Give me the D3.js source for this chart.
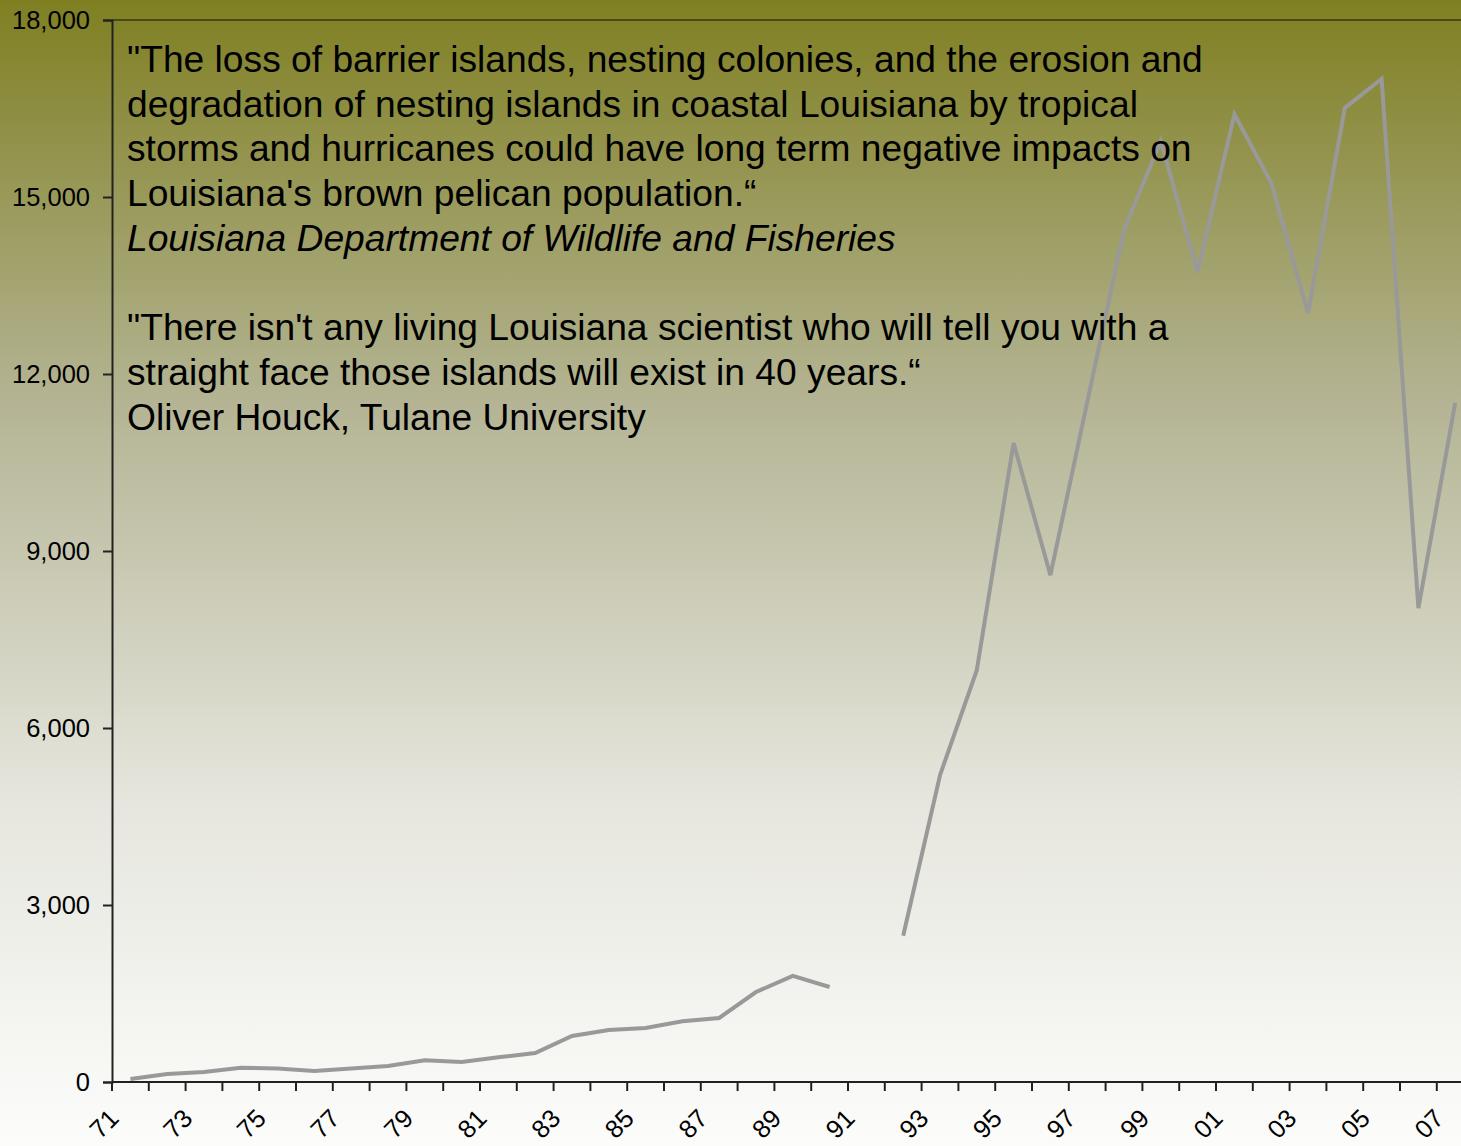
<!DOCTYPE html>
<html>
<head>
<meta charset="utf-8">
<script src="https://cdn.jsdelivr.net/npm/d3@7"></script>
<style>
  body { margin: 0; padding: 0; }
  svg { display: block; }
  text { font-family: "Liberation Sans", Arial, sans-serif; }
</style>
</head>
<body>
<div id="chart"></div>
<script>
"use strict";
(function () {
    // years 1971..2007, 1991 has no count
    const years = d3.range(1971, 2008);
    const pelicans = [
        50, 135, 170, 240, 230, 185, 230, 270, 370, 340,
        420, 490, 780, 880, 915, 1030, 1085, 1525, 1800, 1610,
        null, 2480, 5200, 6980, 10830, 8590, 11520, 14440, 15950, 13730,
        16400, 15240, 13030, 16510, 17000, 8030, 11510
    ];
    const yTicks = [0, 3000, 6000, 9000, 12000, 15000, 18000];
    const quoteLines = [
        { text: "\"The loss of barrier islands, nesting colonies, and the erosion and", italic: false },
        { text: "degradation of nesting islands in coastal Louisiana by tropical", italic: false },
        { text: "storms and hurricanes could have long term negative impacts on", italic: false },
        { text: "Louisiana's brown pelican population.\u201C", italic: false },
        { text: "Louisiana Department of Wildlife and Fisheries", italic: true },
        { text: "", italic: false },
        { text: "\"There isn't any living Louisiana scientist who will tell you with a", italic: false },
        { text: "straight face those islands will exist in 40 years.\u201C", italic: false },
        { text: "Oliver Houck, Tulane University", italic: false }
    ];

    const size = { width: 1461, height: 1146 };
    const plot = { left: 112, top: 20, bottom: 1082, step: 36.8 };

    const svg = d3.select("#chart").append("svg")
        .attr("width", size.width)
        .attr("height", size.height);

    // olive-to-white background
    const grad = svg.append("defs").append("linearGradient")
        .attr("id", "bg")
        .attr("x1", 0).attr("y1", 0).attr("x2", 0).attr("y2", 1);
    grad.append("stop").attr("offset", "0%").attr("stop-color", "#7f7f22");
    grad.append("stop").attr("offset", "35%").attr("stop-color", "#b4b494");
    grad.append("stop").attr("offset", "70%").attr("stop-color", "#e6e6de");
    grad.append("stop").attr("offset", "100%").attr("stop-color", "#fcfcfb");

    svg.append("rect")
        .attr("width", size.width)
        .attr("height", size.height)
        .attr("fill", "url(#bg)");

    const x = d3.scaleBand()
        .domain(years)
        .range([plot.left, plot.left + years.length * plot.step]);

    const y = d3.scaleLinear()
        .domain([0, 18000])
        .range([plot.bottom, plot.top]);

    // top frame line
    svg.append("line")
        .attr("x1", plot.left).attr("x2", size.width)
        .attr("y1", plot.top).attr("y2", plot.top)
        .attr("stroke", "#4a4a16")
        .attr("stroke-width", 2);

    // y axis
    const yAxis = svg.append("g")
        .attr("transform", "translate(" + plot.left + ",0)")
        .call(d3.axisLeft(y).tickValues(yTicks).tickSize(9).tickPadding(13)
            .tickFormat(d3.format(",")));
    yAxis.select(".domain").attr("stroke", "#222").attr("stroke-width", 2);
    yAxis.selectAll(".tick line").attr("stroke", "#222").attr("stroke-width", 2);
    yAxis.selectAll("text")
        .attr("fill", "#000")
        .style("font-size", "25.5px")
        .style("font-family", "'Liberation Sans', Arial, sans-serif");

    // x axis: ticks between categories
    const xAxisG = svg.append("g");
    xAxisG.append("line")
        .attr("x1", plot.left).attr("x2", size.width)
        .attr("y1", plot.bottom).attr("y2", plot.bottom)
        .attr("stroke", "#222")
        .attr("stroke-width", 2);
    xAxisG.selectAll(".xtick")
        .data(years)
        .enter().append("line")
        .attr("class", "xtick")
        .attr("x1", d => x(d)).attr("x2", d => x(d))
        .attr("y1", plot.bottom).attr("y2", plot.bottom + 9)
        .attr("stroke", "#222")
        .attr("stroke-width", 2);
    xAxisG.selectAll(".xlabel")
        .data(years.filter(d => d % 2 === 1))
        .enter().append("text")
        .attr("class", "xlabel")
        .attr("transform", d => "translate(" + (x(d) + x.bandwidth() / 2 - 10) + ",1120) rotate(-45)")
        .attr("text-anchor", "end")
        .style("font-size", "25.5px")
        .attr("fill", "#000")
        .text(d => String(d).slice(2));

    // data line, gap where a year is missing
    const line = d3.line()
        .defined(d => d.v !== null)
        .x(d => x(d.year) + x.bandwidth() / 2)
        .y(d => y(d.v));

    svg.append("path")
        .datum(years.map((yr, i) => ({ year: yr, v: pelicans[i] })))
        .attr("fill", "none")
        .attr("stroke", "#999999")
        .attr("stroke-width", 4)
        .attr("stroke-linejoin", "miter")
        .attr("d", line);

    // quote block
    const quote = svg.append("text")
        .attr("x", 127)
        .attr("y", 72)
        .style("font-size", "37.2px")
        .attr("fill", "#000");
    quote.selectAll("tspan")
        .data(quoteLines)
        .enter().append("tspan")
        .attr("x", 127)
        .attr("y", (d, i) => 72 + i * 44.7)
        .style("font-style", d => d.italic ? "italic" : "normal")
        .text(d => d.text);
})();
</script>
</body>
</html>
